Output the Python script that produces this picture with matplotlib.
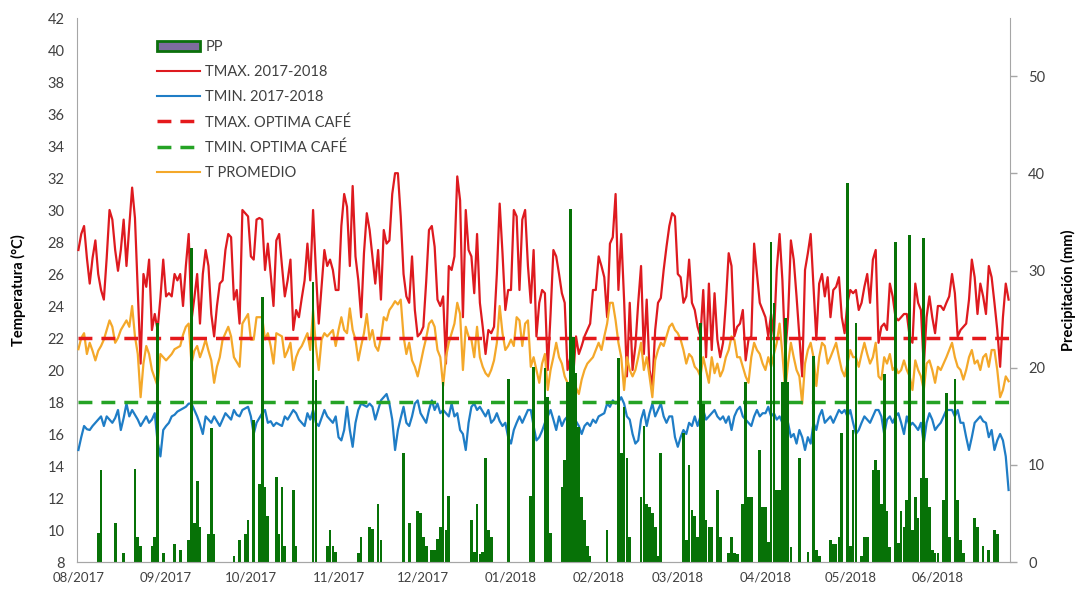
import matplotlib
matplotlib.use("Agg")
import matplotlib.pyplot as plt
import matplotlib.dates as mdates
from matplotlib.patches import Patch
from matplotlib.lines import Line2D
import pandas as pd

plt.rcParams['font.family'] = ['Lato', 'DejaVu Sans']

START_DATE = "2017-08-01"

TMAX = [
    27.5, 28.5, 29.0, 27.0, 25.4, 27.0, 28.1, 26.0, 25.0, 24.4,
    27.0, 30.0, 29.4, 27.5, 26.2, 27.5, 29.4, 26.5, 29.0, 31.4,
    29.5, 25.0, 20.4, 26.0, 25.2, 26.9, 22.5, 23.5, 22.5, 24.5,
    26.9, 24.6, 24.8, 24.6, 26.0, 25.6, 26.0, 24.0, 26.5, 28.5,
    23.1, 24.5, 26.0, 22.9, 26.0, 27.5, 26.5, 23.5, 22.1, 24.0,
    25.4, 25.6, 27.5, 28.5, 28.3, 24.4, 25.0, 22.9, 30.0, 29.8,
    29.6, 27.1, 26.9, 29.4, 29.5, 29.4, 26.25, 27.9, 26.0, 24.0,
    28.1, 28.5, 26.5, 24.6, 25.6, 26.9, 22.5, 23.75, 23.3, 24.5,
    25.6, 27.9, 25.6, 30.0, 26.2, 22.9, 25.2, 27.5, 26.5, 26.9,
    26.25, 25.0, 25.0, 29.0, 31.0, 30.2, 26.5, 31.5, 27.1, 25.6,
    23.3, 27.3, 29.8, 28.75, 27.1, 25.4, 27.5, 24.4, 28.75, 27.9,
    28.1, 31.0, 32.3, 32.3, 29.6, 26.0, 24.6, 24.2, 27.1, 23.75,
    22.1, 22.3, 22.7, 25.5, 28.75, 29.0, 27.7, 24.4, 24.0, 24.6,
    20.4, 26.5, 26.25, 27.1, 32.1, 30.6, 23.3, 30.0, 27.5, 27.1,
    24.8, 28.5, 24.2, 22.7, 21.0, 22.5, 22.3, 22.7, 26.0, 30.4,
    27.3, 23.75, 25.0, 25.0, 30.0, 29.6, 25.0, 29.4, 30.0, 26.5,
    24.2, 27.5, 22.1, 24.2, 25.0, 24.8, 20.0, 23.5, 27.5, 27.1,
    26.0, 24.8, 24.2, 20.0, 20.8, 19.6, 22.1, 21.0, 21.5, 22.1,
    22.5, 22.9, 25.0, 25.0, 27.1, 26.5, 25.8, 23.3, 27.9, 28.3,
    31.0, 25.0, 28.5, 24.4, 19.6, 24.2, 20.0, 21.5, 24.2, 26.5,
    21.0, 24.4, 20.0, 19.0, 22.5, 24.2, 24.5, 26.25, 27.7, 29.0,
    29.8, 29.6, 26.0, 25.8, 24.2, 24.6, 26.9, 24.2, 23.75, 22.7,
    22.1, 25.0, 20.8, 25.4, 21.25, 24.8, 21.9, 20.8, 21.7, 24.2,
    27.3, 26.5, 22.1, 22.7, 22.9, 23.75, 20.6, 21.9, 22.1, 27.9,
    26.0, 24.2, 23.75, 23.3, 22.1, 23.5, 22.1, 26.25, 28.5, 25.6,
    21.0, 23.3, 28.1, 26.9, 24.6, 22.1, 19.6, 26.25, 27.3, 28.5,
    25.2, 21.9, 25.4, 26.0, 24.6, 25.8, 23.3, 25.0, 25.2, 25.8,
    23.3, 22.3, 24.2, 25.0, 24.8, 25.0, 23.75, 24.2, 25.2, 26.0,
    24.2, 26.9, 27.5, 21.7, 22.7, 22.9, 22.5, 25.4, 24.6, 23.3,
    23.1, 23.3, 23.5, 23.5, 22.1, 21.7, 25.4, 24.2, 23.75, 20.2,
    23.3, 24.6, 23.3, 22.3, 24.0, 24.0, 23.75, 24.2, 24.6, 26.0,
    24.8, 22.1, 22.5, 22.7, 22.9, 24.4, 26.9, 25.8, 23.5, 25.4,
    24.6, 23.5, 26.5, 25.8, 24.2, 22.5, 20.2, 23.3, 25.4, 24.4,
]

TMIN = [
    15.0, 15.8, 16.5, 16.3, 16.25, 16.5, 16.7, 16.9, 17.1, 16.5,
    17.1, 16.9, 16.7, 17.0, 17.5, 16.25, 17.0, 17.9, 17.1, 17.5,
    17.2, 16.9, 16.5, 16.8, 17.1, 16.7, 16.9, 17.3, 15.5, 14.6,
    16.25, 16.5, 16.7, 17.1, 17.2, 17.4, 17.5, 17.6, 17.7, 17.9,
    17.9, 17.5, 17.1, 16.6, 16.0, 17.1, 16.9, 16.7, 17.1, 16.8,
    16.5, 16.9, 17.3, 17.1, 16.9, 17.5, 17.2, 17.1, 17.5, 17.6,
    17.7, 17.1, 16.0, 16.7, 17.0, 17.3, 17.5, 16.7, 16.8, 16.5,
    16.7, 16.6, 16.5, 17.1, 16.9, 17.2, 17.5, 17.3, 16.9, 16.7,
    16.5, 17.3, 16.9, 17.5, 16.7, 16.5, 17.0, 17.5, 17.1, 16.9,
    16.7, 17.1, 15.8, 15.6, 16.25, 17.7, 16.25, 15.2, 16.7, 17.5,
    17.9, 17.8, 17.7, 17.9, 17.7, 16.9, 17.5, 18.1, 18.3, 18.5,
    17.9, 16.9, 15.0, 16.25, 17.0, 17.7, 16.7, 16.5, 17.1, 17.9,
    18.1, 17.3, 17.0, 16.7, 17.5, 18.1, 17.5, 17.9, 17.3, 17.5,
    17.3, 17.1, 17.9, 17.1, 17.3, 16.25, 16.0, 15.0, 16.7, 17.7,
    17.9, 17.5, 17.7, 17.4, 17.1, 17.5, 16.7, 16.9, 17.3, 16.8,
    16.5, 16.7, 15.8, 15.4, 16.25, 16.7, 17.1, 16.7, 17.1, 17.5,
    17.5, 16.5, 15.6, 15.8, 16.2, 16.7, 17.1, 17.5, 16.9, 16.25,
    17.1, 16.5, 16.9, 17.1, 16.7, 17.1, 16.8, 16.5, 16.0, 16.5,
    16.7, 16.5, 16.9, 16.7, 17.1, 17.2, 17.3, 17.9, 17.7, 18.1,
    17.9, 18.0, 18.3, 17.9, 17.1, 16.9, 16.0, 15.4, 15.6, 16.9,
    17.5, 16.5, 17.3, 17.9, 17.1, 17.5, 17.9, 17.1, 16.7, 17.1,
    17.1, 15.8, 15.2, 15.8, 16.25, 16.0, 16.7, 16.5, 17.1, 16.5,
    17.1, 17.5, 16.9, 17.1, 17.3, 17.5, 17.1, 16.9, 17.1, 16.7,
    17.1, 16.25, 17.1, 17.5, 17.7, 17.1, 16.9, 16.7, 16.5, 17.1,
    17.5, 17.1, 17.3, 17.3, 17.7, 17.1, 17.3, 16.9, 17.1, 16.7,
    16.25, 16.7, 15.8, 16.0, 15.4, 16.25, 15.8, 15.0, 15.8, 15.4,
    16.7, 16.25, 17.1, 17.5, 16.7, 16.9, 17.1, 16.7, 17.1, 17.5,
    17.3, 17.5, 17.1, 17.5, 16.7, 16.0, 16.25, 16.7, 17.1, 16.9,
    16.7, 17.1, 17.5, 17.5, 17.1, 16.0, 16.9, 17.1, 16.7, 17.1,
    17.3, 16.7, 16.0, 17.1, 16.5, 16.7, 16.5, 16.25, 16.7, 15.4,
    16.7, 17.3, 16.9, 16.25, 16.5, 16.7, 17.1, 17.5, 17.5, 17.5,
    17.1, 17.5, 16.7, 16.7, 15.8, 15.0, 15.8, 16.7, 16.9, 17.1,
    16.8, 16.7, 15.8, 16.25, 15.0, 15.6, 16.0, 15.6, 14.6, 12.5,
]

TPROM = [
    21.3, 22.0, 22.3, 21.0, 21.7, 21.2, 20.6, 21.2, 21.5, 21.9,
    22.5, 23.1, 22.7, 21.7, 22.0, 22.5, 22.8, 23.1, 22.7, 24.0,
    22.1, 21.0, 18.3, 20.4, 21.5, 21.0, 20.0, 19.5, 19.0, 21.0,
    20.8, 20.6, 20.8, 21.0, 21.3, 21.4, 21.5, 22.2, 22.7, 22.9,
    20.4, 21.2, 21.5, 20.8, 21.3, 21.9, 21.2, 20.6, 19.2, 20.2,
    20.8, 21.9, 22.3, 22.7, 22.1, 20.8, 20.5, 20.2, 22.9, 23.2,
    23.5, 21.9, 21.9, 23.3, 23.3, 23.3, 21.9, 22.3, 21.5, 20.4,
    22.3, 22.2, 22.1, 20.8, 21.2, 21.7, 20.0, 20.8, 21.25, 21.5,
    21.9, 22.3, 21.25, 23.75, 21.5, 20.0, 21.9, 22.3, 22.1, 22.3,
    22.5, 21.5, 22.5, 23.3, 22.5, 22.3, 23.85, 22.5, 21.9, 20.6,
    21.5, 22.3, 23.5, 21.9, 22.5, 21.5, 21.2, 22.0, 23.3, 23.1,
    23.75, 24.0, 24.3, 24.1, 24.4, 22.1, 21.0, 21.7, 20.6, 20.2,
    19.6, 20.4, 21.25, 22.0, 22.9, 23.1, 22.7, 21.25, 20.8, 19.0,
    20.8, 21.7, 22.3, 22.9, 24.2, 23.5, 20.0, 22.7, 22.1, 21.9,
    20.8, 22.7, 20.8, 20.2, 19.8, 19.6, 20.0, 20.6, 21.7, 24.0,
    22.3, 21.25, 21.5, 21.9, 21.5, 23.3, 23.1, 21.5, 22.9, 23.1,
    20.2, 20.8, 20.0, 19.2, 20.4, 21.0, 18.75, 20.0, 20.8, 21.7,
    20.8, 20.4, 19.6, 19.2, 18.75, 19.0, 18.9, 18.5, 19.4, 20.0,
    20.4, 20.6, 20.8, 21.25, 21.7, 21.25, 22.1, 22.9, 24.2, 24.2,
    23.1, 21.7, 20.8, 18.75, 20.8, 20.0, 19.6, 20.0, 20.8, 21.7,
    20.0, 20.8, 19.6, 18.3, 20.6, 21.25, 21.7, 21.5, 22.1, 22.7,
    22.9, 22.5, 22.3, 21.9, 21.25, 20.4, 21.0, 20.8, 20.2, 20.0,
    19.6, 20.8, 20.0, 19.2, 20.8, 19.8, 20.4, 19.6, 20.0, 20.8,
    21.25, 22.1, 21.9, 20.8, 20.8, 20.2, 19.6, 19.2, 20.8, 21.7,
    21.25, 21.0, 20.4, 20.0, 20.8, 20.2, 21.0, 21.7, 22.9, 21.0,
    18.75, 20.4, 21.7, 20.8, 20.0, 19.6, 17.9, 20.4, 21.25, 21.7,
    20.8, 19.0, 20.8, 21.7, 21.5, 20.4, 20.8, 21.25, 21.7, 20.8,
    20.0, 19.6, 20.4, 21.25, 20.8, 20.8, 20.2, 21.0, 21.7, 21.0,
    20.4, 20.8, 21.7, 19.6, 19.4, 20.8, 20.4, 21.0, 20.0, 20.2,
    19.8, 20.0, 20.6, 20.0, 19.6, 18.75, 20.6, 20.0, 19.6, 18.75,
    20.4, 20.6, 20.0, 19.2, 20.2, 20.0, 20.4, 20.8, 21.25, 21.7,
    20.8, 20.2, 20.0, 19.4, 20.0, 20.8, 21.25, 20.4, 20.6, 20.0,
    20.8, 21.0, 20.2, 21.25, 21.25, 20.0, 18.3, 18.75, 19.6, 19.3,
]

PP = [
    0, 0, 0, 0, 0, 0, 0, 3.0, 9.5, 0,
    0, 0, 0, 4.0, 0, 0, 0.9, 0, 0, 0,
    9.6, 2.6, 1.6, 0, 0, 0, 1.6, 2.6, 24.6, 0,
    0.9, 0, 0, 0, 1.9, 0, 1.2, 0, 0, 2.3,
    32.3, 4.0, 8.3, 3.6, 0, 0, 2.9, 13.8, 2.9, 0,
    0, 0, 0, 0, 0, 0.6, 0, 2.3, 0, 2.9,
    4.3, 0, 14.6, 0, 8.0, 27.3, 7.7, 4.7, 0, 0,
    8.8, 2.9, 7.7, 1.6, 0, 0, 7.4, 1.6, 0, 0,
    0, 0, 0, 28.8, 18.7, 0, 0, 0, 1.6, 3.3,
    1.6, 1.0, 0, 0, 0, 0, 0, 0, 0, 0.9,
    2.6, 0, 0, 3.6, 3.4, 0, 6.0, 2.3, 0, 0,
    0, 0, 0, 0, 0, 11.2, 0, 4.0, 0, 0,
    5.2, 5.0, 2.6, 1.6, 0, 1.2, 1.2, 2.4, 3.6, 18.5,
    3.3, 6.8, 0, 0, 0, 0, 0, 0, 0, 4.3,
    1.0, 6.0, 0.8, 1.0, 10.7, 3.3, 2.6, 0, 0, 0,
    0, 0, 18.8, 0, 0, 0, 0, 0, 0, 0,
    6.8, 20.1, 0, 0, 0, 20.0, 17.0, 3.0, 0, 0,
    0, 7.7, 10.5, 18.5, 36.3, 23.2, 19.5, 13.9, 6.7, 4.3,
    1.6, 0.6, 0, 0, 0, 0, 0, 3.3, 0, 0,
    0, 21.0, 11.2, 16.0, 10.7, 2.6, 0, 0, 0, 6.7,
    14.0, 6.0, 5.7, 5.0, 3.6, 0.6, 11.2, 0, 0, 0,
    0, 0, 0, 0, 13.3, 2.3, 10.0, 5.4, 4.7, 2.6,
    24.6, 16.3, 4.3, 3.6, 3.6, 0, 7.4, 2.6, 0, 0,
    0.9, 2.6, 0.9, 0.8, 0, 6.0, 18.5, 6.7, 6.7, 0,
    0, 11.5, 5.7, 5.7, 2.1, 32.9, 26.7, 7.4, 7.4, 18.5,
    25.1, 18.5, 1.5, 0, 0, 10.7, 0, 0, 1.0, 0,
    21.2, 1.2, 0.6, 0, 0, 0, 2.3, 1.9, 1.9, 2.6,
    13.3, 0, 39.0, 1.6, 13.6, 24.6, 0, 0.6, 2.6, 2.6,
    0, 9.5, 10.5, 9.5, 6.0, 19.4, 5.2, 1.5, 0, 32.9,
    2.0, 5.3, 3.6, 6.4, 33.7, 3.3, 6.7, 4.5, 8.6, 33.4,
    8.6, 5.7, 1.2, 0.9, 0.9, 0, 6.4, 17.4, 2.6, 0,
    18.8, 6.4, 2.3, 0.9, 0, 0, 0, 4.5, 3.6, 0,
    1.6, 0, 1.2, 0, 3.3, 2.9, 0, 0, 0, 0,
]

TMAX_OPTIMA = 22
TMIN_OPTIMA = 18

LABELS = ["PP", "TMAX. 2017-2018", "TMIN. 2017-2018", "TMAX. OPTIMA CAFÉ",
          "TMIN. OPTIMA CAFÉ", "T PROMEDIO"]
TEMP_TICKS = list(range(8, 43, 2))
PP_TICKS = list(range(0, 51, 10))

n = min(len(TMAX), len(TMIN), len(TPROM), len(PP))
dates = pd.date_range(START_DATE, periods=n, freq="D")

C_TMAX = '#DE1A1F'
C_TMIN = '#1F7DC6'
C_PROM = '#F4A82A'
C_DMAX = '#E5191C'
C_DMIN = '#25A325'
C_BAR = '#077207'
C_SPINE = '#A6A6A6'
C_TXT = '#404040'

W, H = 1082, 589
fig = plt.figure(figsize=(W / 100, H / 100), dpi=100)
L, R, T, B = 77, 1010, 18, 562
ax = fig.add_axes([L / W, 1 - B / H, (R - L) / W, (B - T) / H])

ax.plot(dates, TMAX[:n], color=C_TMAX, lw=1.6, zorder=3)
ax.plot(dates, TMIN[:n], color=C_TMIN, lw=1.6, zorder=3)
ax.plot(dates, [TMAX_OPTIMA] * n, color=C_DMAX, lw=2.5, dashes=(4, 2.6), zorder=4)
ax.plot(dates, [TMIN_OPTIMA] * n, color=C_DMIN, lw=2.5, dashes=(4, 2.6), zorder=4)
ax.plot(dates, TPROM[:n], color=C_PROM, lw=1.6, zorder=3)

ax.set_ylim(8, 42)
ax.set_yticks(TEMP_TICKS)
ax.set_xlim(dates[0] - pd.Timedelta(hours=12), dates[-1] + pd.Timedelta(hours=12))
ax.xaxis.set_major_locator(mdates.MonthLocator())
ax.xaxis.set_major_formatter(mdates.DateFormatter("%m/%Y"))

ax2 = ax.twinx()
ax2.bar(dates, PP[:n], width=0.95, color=C_BAR, linewidth=0, zorder=2)
ax2.set_ylim(0, 56)
ax2.set_yticks(PP_TICKS)

for a in (ax, ax2):
    a.spines['top'].set_visible(False)
    for s in ('left', 'right', 'bottom'):
        a.spines[s].set_color(C_SPINE)
ax.spines['right'].set_visible(False)
ax2.spines['left'].set_visible(False)

ax.tick_params(axis='y', length=0, pad=9, labelsize=10.5, labelcolor=C_TXT)
ax.tick_params(axis='x', length=0, pad=7, labelsize=9.5, labelcolor=C_TXT)
ax2.tick_params(axis='y', length=5, width=1, color=C_SPINE, pad=8,
                labelsize=10.5, labelcolor=C_TXT)

fig.text(18 / W, 1 - 290 / H, "Temperatura (°C)", rotation=90, ha='center',
         va='center', fontsize=10.5, fontweight='bold', color='black')
fig.text(1068 / W, 1 - 290 / H, "Precipitación (mm)", rotation=90, ha='center',
         va='center', fontsize=10.5, fontweight='bold', color='black')

handles = [
    Patch(facecolor='#7D6C9E', edgecolor='#0B700B', linewidth=2),
    Line2D([], [], color=C_TMAX, lw=1.5),
    Line2D([], [], color=C_TMIN, lw=1.5),
    Line2D([], [], color=C_DMAX, lw=2.5, dashes=(4, 2.6)),
    Line2D([], [], color=C_DMIN, lw=2.5, dashes=(4, 2.6)),
    Line2D([], [], color=C_PROM, lw=1.5),
]
leg = ax2.legend(handles, LABELS, loc='upper left',
                 bbox_to_anchor=(150 / W, 1 - 33 / H), bbox_transform=fig.transFigure,
                 frameon=False, borderpad=0, handlelength=2.9, handletextpad=0.4,
                 labelspacing=0.75, fontsize=10.5)
for t in leg.get_texts():
    t.set_color(C_TXT)

fig.savefig("out.png", dpi=100)
